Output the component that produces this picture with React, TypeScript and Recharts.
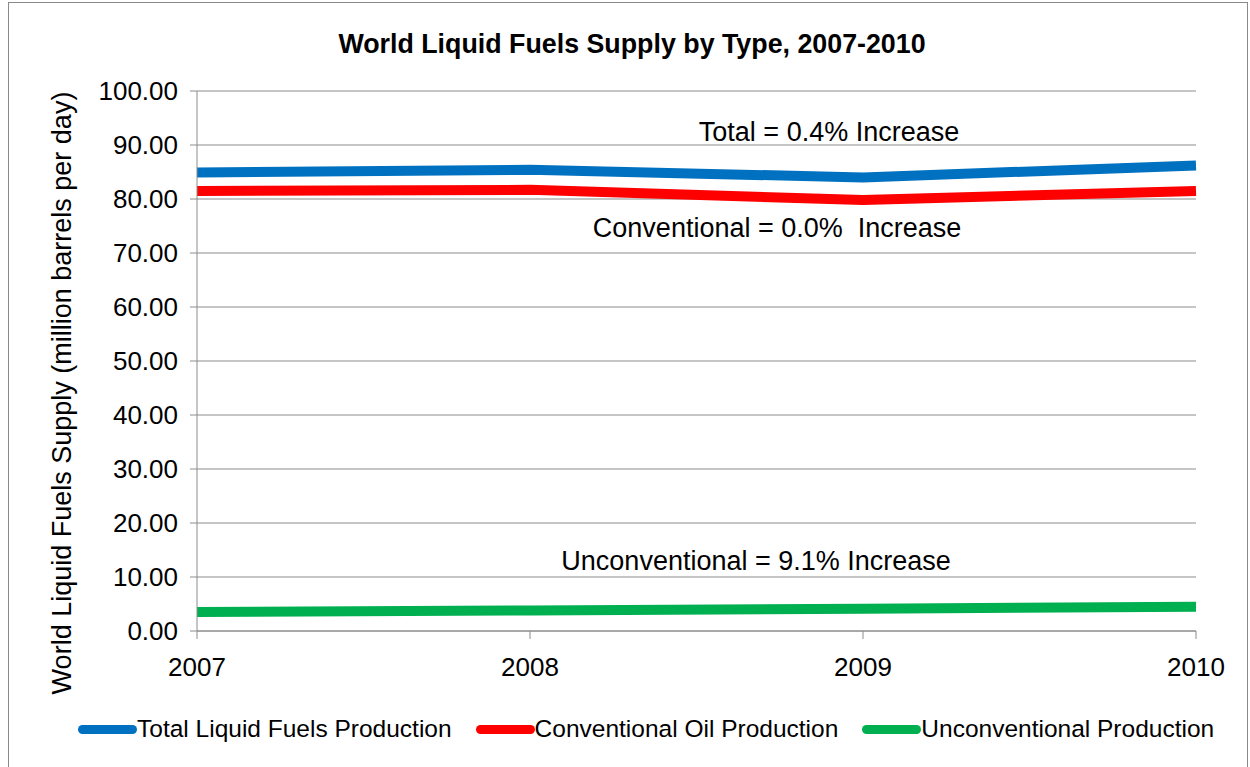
import { LineChart, Line, XAxis, YAxis, CartesianGrid, ReferenceDot, Label } from "recharts";

const years = [2007, 2008, 2009, 2010];
const totalLiquids = [84.9, 85.4, 84.0, 86.2];
const conventional = [81.5, 81.7, 79.8, 81.5];
const unconventional = [3.5, 3.8, 4.1, 4.5];
const yTicks = [0, 10, 20, 30, 40, 50, 60, 70, 80, 90, 100];

const series = [
  { key: "total", name: "Total Liquid Fuels Production", color: "#0070C0" },
  { key: "conv", name: "Conventional Oil Production", color: "#FF0000" },
  { key: "unconv", name: "Unconventional Production", color: "#00B050" },
];

const notes = [
  { x: 2008.898, y: 92.6, text: "Total = 0.4% Increase" },
  { x: 2008.742, y: 74.8, text: "Conventional = 0.0%\u00a0 Increase" },
  { x: 2008.679, y: 13.0, text: "Unconventional = 9.1% Increase" },
];

const data = years.map((year, i) => ({
  year,
  total: totalLiquids[i],
  conv: conventional[i],
  unconv: unconventional[i],
}));

const FONT = "'Liberation Sans', Arial, sans-serif";

const LegendRow = () => (
  <div
    style={{
      position: "absolute",
      top: 715,
      left: 78,
      display: "flex",
      gap: 24,
      fontFamily: FONT,
      fontSize: 24.5,
      color: "#000",
      whiteSpace: "nowrap",
    }}
  >
    {series.map((s) => (
      <div key={s.key} style={{ display: "flex", alignItems: "center" }}>
        <span style={{ width: 59, height: 9, borderRadius: 5, background: s.color, display: "inline-block" }} />
        <span>{s.name}</span>
      </div>
    ))}
  </div>
);

export default function App() {
  return (
    <div style={{ position: "absolute", left: 0, top: 0, width: 1250, height: 767, background: "#fff", overflow: "hidden" }}>
      <div
        style={{
          position: "absolute",
          left: 8,
          top: 2,
          width: 1240,
          height: 780,
          border: "1px solid #8a8a8a",
          boxSizing: "border-box",
        }}
      />
      <div
        style={{
          position: "absolute",
          top: 29,
          left: 0,
          width: 1264,
          textAlign: "center",
          fontFamily: FONT,
          fontWeight: "bold",
          fontSize: 26.8,
        }}
      >
        World Liquid Fuels Supply by Type, 2007-2010
      </div>
      <LineChart
        width={1250}
        height={767}
        data={data}
        margin={{ top: 91, right: 54, left: 0, bottom: 76 }}
        style={{ position: "absolute", left: 0, top: 0, fontFamily: FONT }}
      >
        <CartesianGrid vertical={false} stroke="#8c8c8c" strokeWidth={1.2} />
        <XAxis
          dataKey="year"
          type="number"
          domain={[2007, 2010]}
          ticks={years}
          axisLine={{ stroke: "#8c8c8c" }}
          tickLine={{ stroke: "#8c8c8c" }}
          tickSize={8}
          tickMargin={19}
          tick={{ fill: "#000", fontSize: 26 }}
          height={60}
        />
        <YAxis
          domain={[0, 100]}
          ticks={yTicks}
          width={197}
          axisLine={{ stroke: "#8c8c8c" }}
          tickLine={{ stroke: "#8c8c8c" }}
          tickSize={7}
          tickMargin={12}
          tickFormatter={(v: number) => v.toFixed(2)}
          tick={{ fill: "#000", fontSize: 26 }}
        >
          <Label
            content={() => (
              <text
                x={62}
                y={393}
                transform="rotate(-90 62 393)"
                textAnchor="middle"
                dominantBaseline="central"
                fontSize={27}
                fill="#000"
                fontFamily={FONT}
              >
                World Liquid Fuels Supply (million barrels per day)
              </text>
            )}
          />
        </YAxis>
        {series.map((s) => (
          <Line
            key={s.key}
            dataKey={s.key}
            name={s.name}
            stroke={s.color}
            strokeWidth={10}
            strokeLinejoin="round"
            dot={false}
            activeDot={false}
            isAnimationActive={false}
          />
        ))}
        {notes.map((n) => (
          <ReferenceDot key={n.text} x={n.x} y={n.y} r={0} stroke="none" fill="none" ifOverflow="visible">
            <Label value={n.text} position="center" fontSize={27} fill="#000" />
          </ReferenceDot>
        ))}
      </LineChart>
      <LegendRow />
    </div>
  );
}
